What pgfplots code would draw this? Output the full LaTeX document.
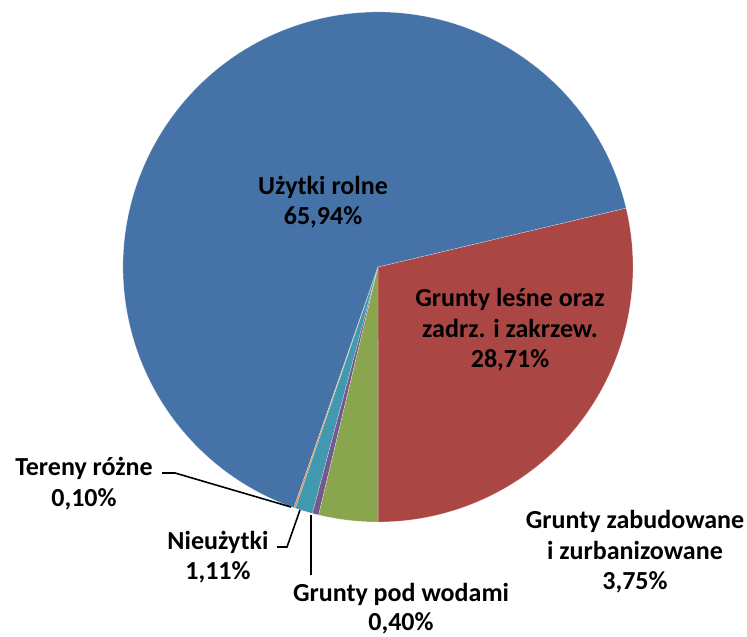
\documentclass[border=0pt]{standalone}
\usepackage{pgfplots}
\usepackage{pgfplotstable}
\pgfplotsset{compat=1.18}
\usepackage{fontspec}
\setmainfont{Carlito}
\definecolor{cBlue}{HTML}{4572A7}
\definecolor{cRed}{HTML}{AA4643}
\definecolor{cGreen}{HTML}{89A54E}
\definecolor{cPurple}{HTML}{71588F}
\definecolor{cTeal}{HTML}{4198AF}
\definecolor{cOrange}{HTML}{DB843D}

% slices, counterclockwise from 6 o'clock
\pgfplotstableread{
name value
lesne 28.71
rolne 65.94
rozne 0.10
nieuzytki 1.11
wody 0.40
zabudowane 3.75
}\piedata

\begin{document}
\begin{tikzpicture}
\pgfplotstablegetelem{0}{value}\of\piedata \let\vA\pgfplotsretval
\pgfplotstablegetelem{1}{value}\of\piedata \let\vB\pgfplotsretval
\pgfplotstablegetelem{2}{value}\of\piedata \let\vC\pgfplotsretval
\pgfplotstablegetelem{3}{value}\of\piedata \let\vD\pgfplotsretval
\pgfplotstablegetelem{4}{value}\of\piedata \let\vE\pgfplotsretval
\pgfplotstablegetelem{5}{value}\of\piedata \let\vF\pgfplotsretval
\pgfmathsetmacro\aO{-90}
\pgfmathsetmacro\aA{\aO+3.6*\vA}
\pgfmathsetmacro\aB{\aA+3.6*\vB}
\pgfmathsetmacro\aC{\aB+3.6*\vC}
\pgfmathsetmacro\aD{\aC+3.6*\vD}
\pgfmathsetmacro\aE{\aD+3.6*\vE}
\pgfmathsetmacro\aF{\aE+3.6*\vF}
\begin{axis}[
  width=747pt, height=637pt, scale only axis,
  xmin=0, xmax=747, ymin=0, ymax=637,
  hide axis, clip=false,
]
\coordinate (BL) at (axis cs:0,0);
\coordinate (TR) at (axis cs:747,637);
\def\slice#1#2#3{\fill[#1, draw=white, draw opacity=0.5, line width=0.4pt] (axis cs:378,370) -- ++(#2:255pt) arc[start angle=#2, end angle=#3, radius=255pt] -- cycle;}
\slice{cRed}{\aO}{\aA}
\slice{cBlue}{\aA}{\aB}
\slice{cOrange}{\aB}{\aC}
\slice{cTeal}{\aC}{\aD}
\slice{cPurple}{\aD}{\aE}
\slice{cGreen}{\aE}{\aF}
% leader lines
\draw[black, line width=1.6pt] (axis cs:162,164) -- (axis cs:175,164) -- (axis cs:291,130);
\draw[black, line width=1.6pt] (axis cs:277,90) -- (axis cs:287,90) -- (axis cs:300,127);
\draw[black, line width=1.6pt] (axis cs:311,62) -- (axis cs:311,122);
% labels
\tikzset{lab/.style={anchor=base, font=\fontsize{26}{31}\selectfont\bfseries, inner sep=0pt, text=black}}
\node[lab] at (axis cs:323,442) {Użytki rolne};
\node[lab] at (axis cs:323,412) {65,94\%};
\node[lab] at (axis cs:510,330) {Grunty leśne oraz};
\node[lab] at (axis cs:510,299) {zadrz. i zakrzew.};
\node[lab] at (axis cs:510,269) {28,71\%};
\node[lab] at (axis cs:84,161) {Tereny różne};
\node[lab] at (axis cs:84,130) {0,10\%};
\node[lab] at (axis cs:218,87) {Nieużytki};
\node[lab] at (axis cs:218,57) {1,11\%};
\node[lab] at (axis cs:401,35) {Grunty pod wodami};
\node[lab] at (axis cs:401,6) {0,40\%};
\node[lab] at (axis cs:635,108) {Grunty zabudowane};
\node[lab] at (axis cs:635,77) {i zurbanizowane};
\node[lab] at (axis cs:635,47) {3,75\%};
\end{axis}
\pgfresetboundingbox
\useasboundingbox (BL) rectangle (TR);
\end{tikzpicture}
\end{document}
